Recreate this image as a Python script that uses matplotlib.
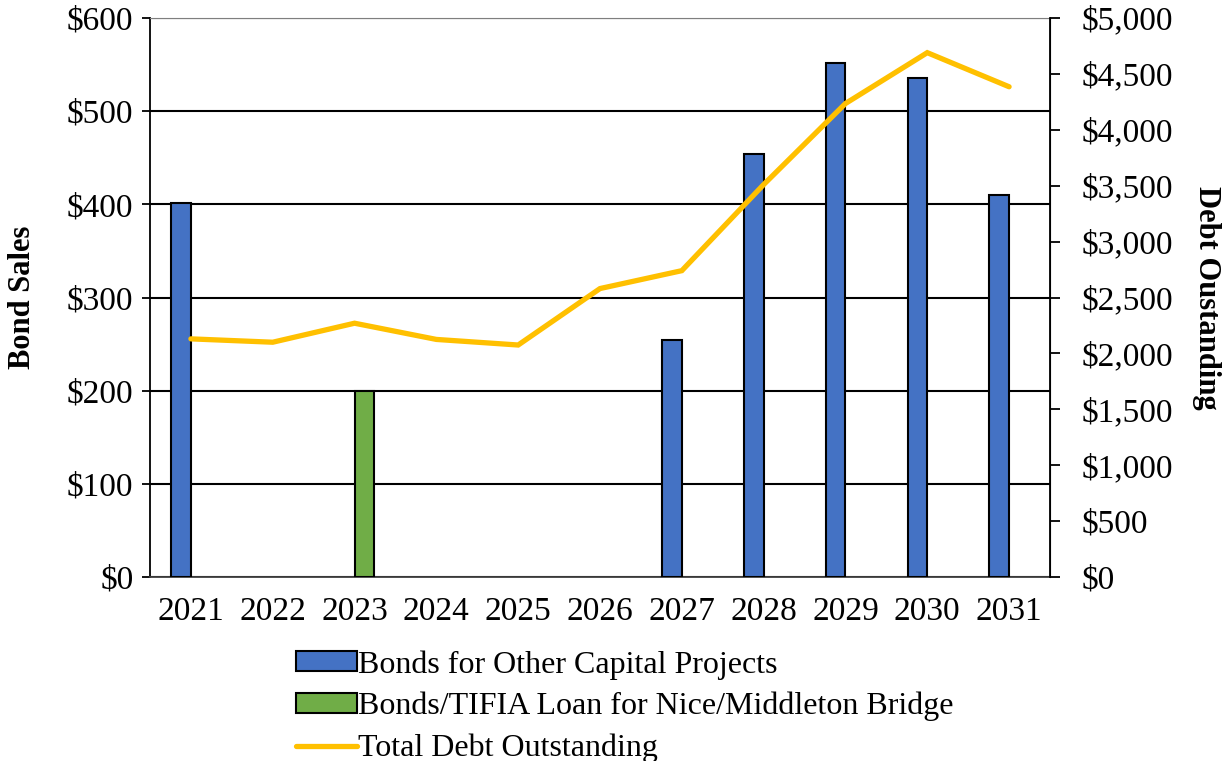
import matplotlib
matplotlib.use('Agg')
import matplotlib.pyplot as plt
import numpy as np

# Data
years = ['2021', '2022', '2023', '2024', '2025', '2026', '2027', '2028', '2029', '2030', '2031']
other_bonds = [401, 0, 0, 0, 0, 0, 254, 454, 552, 536, 410]
bridge_bonds = [0, 0, 200, 0, 0, 0, 0, 0, 0, 0, 0]
debt_outstanding = [2130, 2100, 2270, 2125, 2075, 2580, 2740, 3510, 4235, 4690, 4385]

left_ticks = [0, 100, 200, 300, 400, 500, 600]
right_ticks = [0, 500, 1000, 1500, 2000, 2500, 3000, 3500, 4000, 4500, 5000]

blue = '#4472C4'
green = '#70AD47'
gold = '#FFC000'

plt.rcParams['font.family'] = ['Liberation Serif', 'DejaVu Serif']
fs = 24

fig = plt.figure(figsize=(12.31, 7.61), dpi=100)
ax = fig.add_axes([150/1231, 1-577/761, 900/1231, 559/761])

x = np.arange(len(years))
w = 0.24
# only draw non-zero bars
xb = [xi for xi, v in zip(x, other_bonds) if v > 0]
vb = [v for v in other_bonds if v > 0]
xg = [xi for xi, v in zip(x, bridge_bonds) if v > 0]
vg = [v for v in bridge_bonds if v > 0]
b1 = ax.bar(np.array(xb) - w/2, vb, w, color=blue, edgecolor='black', linewidth=1.5, zorder=3,
            label='Bonds for Other Capital Projects')
b2 = ax.bar(np.array(xg) + w/2, vg, w, color=green, edgecolor='black', linewidth=1.5, zorder=3,
            label='Bonds/TIFIA Loan for Nice/Middleton Bridge')

ax.set_xlim(-0.5, len(years) - 0.5)
ax.set_ylim(0, 600)
ax.set_yticks(left_ticks)
ax.set_yticklabels(['${:,}'.format(t) for t in left_ticks], fontsize=fs)
ax.set_xticks(x)
ax.set_xticklabels(years, fontsize=fs)
ax.tick_params(axis='x', length=0, pad=14)
ax.tick_params(axis='y', length=6, width=1.3, pad=6, direction='out')
ax.yaxis.grid(True, color='black', linewidth=1.5, zorder=0)
ax.set_axisbelow(True)
ax.spines['top'].set_color('#7f7f7f')
ax.spines['left'].set_linewidth(1.3)
ax.spines['bottom'].set_linewidth(1.3)
ax.spines['bottom'].set_color('#404040')

ax.set_ylabel('Bond Sales', fontsize=22, fontweight='bold')
ax.yaxis.set_label_coords(-0.126, 0.5)

ax2 = ax.twinx()
ln, = ax2.plot(x, debt_outstanding, color=gold, linewidth=3.8, solid_capstyle='round',
               solid_joinstyle='miter', label='Total Debt Outstanding', zorder=4)
ax2.set_ylim(0, 5000)
ax2.set_yticks(right_ticks)
ax2.set_yticklabels(['${:,}'.format(t) for t in right_ticks], fontsize=fs)
ax2.tick_params(axis='y', length=7, width=1.3, pad=16, direction='out')
ax2.spines['right'].set_linewidth(1.3)
ax2.spines['top'].set_visible(False)
ax2.spines['left'].set_visible(False)
ax2.spines['bottom'].set_visible(False)
ax2.set_ylabel('Debt Oustanding', fontsize=22, fontweight='bold', rotation=-90)
ax2.yaxis.set_label_coords(1.19, 0.5)

leg = fig.legend([b1, b2, ln],
                 ['Bonds for Other Capital Projects',
                  'Bonds/TIFIA Loan for Nice/Middleton Bridge',
                  'Total Debt Outstanding'],
                 loc='upper left', bbox_to_anchor=(296/1231, 1-650/761),
                 frameon=False, fontsize=23, handlelength=1.9, handleheight=0.6,
                 handletextpad=0.05, labelspacing=0.39, borderpad=0, borderaxespad=0)

fig.savefig('out.png', dpi=100)
